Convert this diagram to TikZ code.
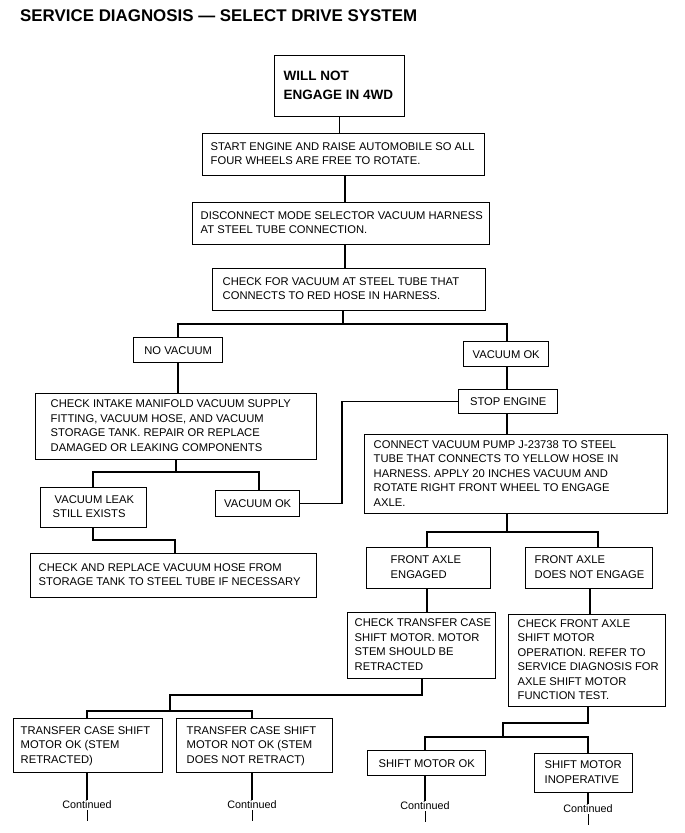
\documentclass[tikz,border=0pt]{standalone}
\usepackage{fontspec}
\setmainfont{Liberation Sans}
\newcommand\boxfont{\fontsize{11.2}{14.5}\selectfont}
\newcommand\contfont{\fontsize{10.8}{12}\selectfont}
\tikzset{
  box/.style={draw=black, line width=1.4pt, inner sep=0pt, font=\boxfont},
  cbox/.style={draw=black, line width=1.4pt, inner sep=0pt, align=center, font=\boxfont},
  link/.style={draw=black, line width=1.2pt},
  tick/.style={draw=black, line width=0.9pt},
  cont/.style={inner sep=1pt, font=\contfont},
}
% name, x1, y1, x2, y2, left text offset, text (rows separated by \\)
\newcommand\flowbox[7]{%
  \pgfmathsetmacro\fbW{#4-#2}\pgfmathsetmacro\fbH{#5-#3}%
  \node[box, anchor=north west, minimum width=\fbW pt, minimum height=\fbH pt] (#1) at (#2,#3)
    {\makebox[\fbW pt][l]{\hspace*{#6pt}\begin{tabular}{@{}l@{}}#7\end{tabular}}};}
% name, x1, y1, x2, y2, text
\newcommand\centerbox[6]{%
  \pgfmathsetmacro\fbW{#4-#2}\pgfmathsetmacro\fbH{#5-#3}%
  \node[cbox, anchor=north west, minimum width=\fbW pt, minimum height=\fbH pt] (#1) at (#2,#3) {#6};}
\begin{document}
\begin{tikzpicture}[x=1pt,y=-1pt]
\useasboundingbox[fill=white] (0,0) rectangle (685,833);

\node[anchor=base west, inner sep=0pt, font=\bfseries\fontsize{16.9}{18}\selectfont] (title) at (20,21) {SERVICE DIAGNOSIS — SELECT DRIVE SYSTEM};

% boxes
\node[box, anchor=north west, minimum width=130pt, minimum height=61pt,
      font=\bfseries\fontsize{13.5}{19}\selectfont] (will) at (274,55)
      {\makebox[130pt][l]{\hspace*{9pt}\begin{tabular}{@{}l@{}}WILL NOT\\ENGAGE IN 4WD\end{tabular}}};
\flowbox{start}{202}{133}{484}{175}{8}{START ENGINE AND RAISE AUTOMOBILE SO ALL\\FOUR WHEELS ARE FREE TO ROTATE.}
\flowbox{disc}{192}{202}{489}{244}{8}{DISCONNECT MODE SELECTOR VACUUM HARNESS\\AT STEEL TUBE CONNECTION.}
\flowbox{check}{212}{268}{485}{310}{10}{CHECK FOR VACUUM AT STEEL TUBE THAT\\CONNECTS TO RED HOSE IN HARNESS.}
\centerbox{novac}{133}{337}{222}{362}{NO VACUUM}
\centerbox{vacok}{463}{341}{548}{366}{VACUUM OK}
\centerbox{stop}{458}{389}{557}{413}{STOP ENGINE}
\flowbox{intake}{35}{393}{316}{459}{15}{CHECK INTAKE MANIFOLD VACUUM SUPPLY\\FITTING, VACUUM HOSE, AND VACUUM\\STORAGE TANK. REPAIR OR REPLACE\\DAMAGED OR LEAKING COMPONENTS}
\flowbox{leak}{40}{487}{146}{527}{12}{\hspace*{2pt}VACUUM LEAK\\STILL EXISTS}
\centerbox{vacok2}{215}{490}{299}{516}{VACUUM OK}
\flowbox{replace}{30}{553}{316}{597}{8}{CHECK AND REPLACE VACUUM HOSE FROM\\STORAGE TANK TO STEEL TUBE IF NECESSARY}
\flowbox{pump}{364}{434}{667}{513}{9}{CONNECT VACUUM PUMP J-23738 TO STEEL\\TUBE THAT CONNECTS TO YELLOW HOSE IN\\HARNESS. APPLY 20 INCHES VACUUM AND\\ROTATE RIGHT FRONT WHEEL TO ENGAGE\\AXLE.}
\flowbox{engaged}{366}{547}{490}{588}{24}{FRONT AXLE\\ENGAGED}
\flowbox{noteng}{525}{547}{652}{588}{9}{FRONT AXLE\\DOES NOT ENGAGE}
\flowbox{transfer}{347}{612}{495}{678}{7}{CHECK TRANSFER CASE\\SHIFT MOTOR. MOTOR\\STEM SHOULD BE\\RETRACTED}
\flowbox{frontax}{508}{614}{665}{706}{9}{CHECK FRONT AXLE\\SHIFT MOTOR\\OPERATION. REFER TO\\SERVICE DIAGNOSIS FOR\\AXLE SHIFT MOTOR\\FUNCTION TEST.}
\flowbox{tcok}{13}{718}{162}{772}{7}{TRANSFER CASE SHIFT\\MOTOR OK (STEM\\RETRACTED)}
\flowbox{tcnot}{176}{718}{332}{772}{10}{TRANSFER CASE SHIFT\\MOTOR NOT OK (STEM\\DOES NOT RETRACT)}
\centerbox{smok}{367}{750}{485}{775}{SHIFT MOTOR OK}
\flowbox{sminop}{534}{753}{632}{792}{10}{SHIFT MOTOR\\INOPERATIVE}

% connectors
\draw[link] (will.south) -- (will.south |- start.north);
\coordinate (x2) at (345,0);
\draw[link] (x2 |- start.south) -- (x2 |- disc.north);
\draw[link] (x2 |- disc.south) -- (x2 |- check.north);
\coordinate (b1) at (343,324);
\coordinate (b1l) at (178,324);
\coordinate (b1r) at (507,324);
\draw[link] (b1 |- check.south) -- (b1);
\draw[link] (b1l |- novac.north) -- (b1l) -- (b1r) -- (b1r |- vacok.north);
\draw[link] (b1r |- vacok.south) -- (b1r |- stop.north);
\draw[link] (b1r |- stop.south) -- (b1r |- pump.north);
\coordinate (v1) at (342,0);
\draw[link] (stop.west) -| (v1 |- vacok2.east) -- (vacok2.east);
\draw[link] (b1l |- novac.south) -- (b1l |- intake.north);
\coordinate (b2) at (176,472);
\coordinate (b2l) at (93,472);
\coordinate (b2r) at (259,472);
\draw[link] (b2 |- intake.south) -- (b2);
\draw[link] (b2l |- leak.north) -- (b2l) -- (b2r) -- (b2r |- vacok2.north);
\coordinate (b3l) at (93,540);
\coordinate (b3r) at (175,540);
\draw[link] (b3l |- leak.south) -- (b3l) -- (b3r) -- (b3r |- replace.north);
\coordinate (b4) at (507,532);
\coordinate (b4l) at (427,532);
\coordinate (b4r) at (598,532);
\draw[link] (b4 |- pump.south) -- (b4);
\draw[link] (b4l |- engaged.north) -- (b4l) -- (b4r) -- (b4r |- noteng.north);
\coordinate (x5) at (427,0);
\draw[link] (x5 |- engaged.south) -- (x5 |- transfer.north);
\coordinate (x6) at (590,0);
\draw[link] (x6 |- noteng.south) -- (x6 |- frontax.north);
\coordinate (b5) at (422,695);
\coordinate (b5l) at (170,695);
\coordinate (b6) at (170,711);
\coordinate (b6l) at (87,711);
\coordinate (b6r) at (252,711);
\draw[link] (b5 |- transfer.south) -- (b5) -- (b5l) -- (b6);
\draw[link] (b6l |- tcok.north) -- (b6l) -- (b6r) -- (b6r |- tcnot.north);
\coordinate (b7) at (588,723);
\coordinate (b7l) at (503,723);
\coordinate (b8) at (503,737);
\coordinate (b8l) at (425,737);
\coordinate (b8r) at (588,737);
\draw[link] (b7 |- frontax.south) -- (b7) -- (b7l) -- (b8);
\draw[link] (b8l |- smok.north) -- (b8l) -- (b8r) -- (b8r |- sminop.north);

% continued marks
\node[cont] (c1) at (87,805) {Continued};
\node[cont] (c2) at (252,805) {Continued};
\node[cont] (c3) at (425,806) {Continued};
\node[cont] (c4) at (588,809) {Continued};
\draw[link] (c1.north |- tcok.south) -- (c1.north);
\draw[link] (c2.north |- tcnot.south) -- (c2.north);
\draw[link] (c3.north |- smok.south) -- (c3.north);
\draw[link] (c4.north |- sminop.south) -- (c4.north);
\coordinate (k1) at (87,821);
\coordinate (k2) at (252,821);
\coordinate (k3) at (425,822);
\coordinate (k4) at (588,825);
\draw[tick] (c1.south) -- (k1);
\draw[tick] (c2.south) -- (k2);
\draw[tick] (c3.south) -- (k3);
\draw[tick] (c4.south) -- (k4);
\end{tikzpicture}
\end{document}
